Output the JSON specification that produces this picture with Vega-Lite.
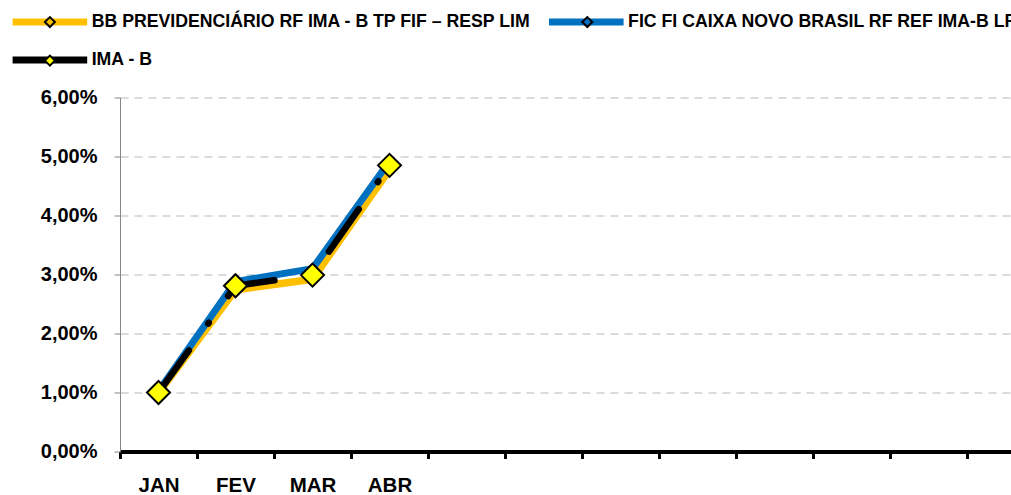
{
  "$schema": "https://vega.github.io/schema/vega-lite/v6.json",
  "width": 891,
  "height": 354,
  "autosize": {"type": "none"},
  "padding": {"left": 120, "top": 97.5, "right": 0, "bottom": 43.5},
  "background": "white",
  "config": {"font": "Liberation Sans", "view": {"stroke": null}},
  "data": {
    "values": [
      {"mes": "JAN", "serie": "BB PREVIDENCIÁRIO RF IMA - B TP FIF – RESP LIM", "valor": 0.0099},
      {"mes": "FEV", "serie": "BB PREVIDENCIÁRIO RF IMA - B TP FIF – RESP LIM", "valor": 0.0274},
      {"mes": "MAR", "serie": "BB PREVIDENCIÁRIO RF IMA - B TP FIF – RESP LIM", "valor": 0.0292},
      {"mes": "ABR", "serie": "BB PREVIDENCIÁRIO RF IMA - B TP FIF – RESP LIM", "valor": 0.0478},
      {"mes": "JAN", "serie": "FIC FI CAIXA NOVO BRASIL RF REF IMA-B LP", "valor": 0.0102},
      {"mes": "FEV", "serie": "FIC FI CAIXA NOVO BRASIL RF REF IMA-B LP", "valor": 0.0288},
      {"mes": "MAR", "serie": "FIC FI CAIXA NOVO BRASIL RF REF IMA-B LP", "valor": 0.0310},
      {"mes": "ABR", "serie": "FIC FI CAIXA NOVO BRASIL RF REF IMA-B LP", "valor": 0.0492},
      {"mes": "JAN", "serie": "IMA - B", "valor": 0.0100},
      {"mes": "FEV", "serie": "IMA - B", "valor": 0.0281},
      {"mes": "MAR", "serie": "IMA - B", "valor": 0.0299},
      {"mes": "ABR", "serie": "IMA - B", "valor": 0.0485}
    ]
  },
  "encoding": {
    "x": {
      "field": "mes",
      "type": "ordinal",
      "bandPosition": 0.5,
      "scale": {
        "type": "band",
        "domain": ["JAN", "FEV", "MAR", "ABR", "MAI", "JUN", "JUL", "AGO", "SET", "OUT", "NOV", "DEZ"],
        "range": [0, 924],
        "paddingInner": 0,
        "paddingOuter": 0
      },
      "axis": {
        "title": null,
        "tickBand": "extent",
        "grid": false,
        "domainColor": "black",
        "domainWidth": 4,
        "tickColor": "black",
        "tickWidth": 3,
        "tickSize": 7,
        "labelFontSize": 20.5,
        "labelFontWeight": "bold",
        "labelColor": "black",
        "labelPadding": 17,
        "labelAngle": 0,
        "labelOverlap": false,
        "labelExpr": "indexof(['JAN','FEV','MAR','ABR'], datum.value) >= 0 ? datum.value : ''"
      }
    },
    "y": {
      "field": "valor",
      "type": "quantitative",
      "scale": {"domain": [0, 0.06], "nice": false},
      "axis": {
        "title": null,
        "values": [0, 0.01, 0.02, 0.03, 0.04, 0.05, 0.06],
        "domainColor": "#868686",
        "domainWidth": 1,
        "tickColor": "#868686",
        "tickSize": 6,
        "tickWidth": 1,
        "gridColor": "#D0D0D0",
        "gridDash": [8, 6],
        "gridWidth": 1.5,
        "labelFontSize": 20,
        "labelFontWeight": "bold",
        "labelColor": "black",
        "labelPadding": 17,
        "labelExpr": "replace(format(datum.value, '.2%'), '.', ',')"
      }
    }
  },
  "layer": [
    {
      "transform": [{"filter": "datum.serie === 'BB PREVIDENCIÁRIO RF IMA - B TP FIF – RESP LIM'"}],
      "mark": {"type": "line", "strokeWidth": 7.5, "strokeJoin": "round"},
      "encoding": {
        "color": {
          "field": "serie",
          "type": "nominal",
          "scale": {
            "domain": ["BB PREVIDENCIÁRIO RF IMA - B TP FIF – RESP LIM", "FIC FI CAIXA NOVO BRASIL RF REF IMA-B LP", "IMA - B"],
            "range": ["#FFC000", "#0070C0", "#000000"]
          },
          "legend": {
            "title": null,
            "orient": "none",
            "direction": "horizontal",
            "legendX": -78.95,
            "legendY": -84.35,
            "columns": 2,
            "columnPadding": 3.4,
            "rowPadding": 8.9,
            "padding": 0,
            "symbolType": "M-7.46,0L7.46,0",
            "symbolSize": 100,
            "symbolStrokeWidth": 7,
            "labelFontSize": 17.7,
            "labelFontWeight": "bold",
            "labelColor": "black",
            "labelLimit": 1000,
            "labelOffset": 32.95
          }
        }
      }
    },
    {
      "transform": [{"filter": "datum.serie === 'FIC FI CAIXA NOVO BRASIL RF REF IMA-B LP'"}],
      "mark": {"type": "line", "strokeWidth": 7, "strokeJoin": "round"},
      "encoding": {"color": {"field": "serie", "type": "nominal"}}
    },
    {
      "transform": [{"filter": "datum.serie === 'IMA - B'"}],
      "mark": {"type": "line", "strokeWidth": 6.5, "strokeCap": "round", "strokeDash": [52, 33, 1, 33]},
      "encoding": {"color": {"field": "serie", "type": "nominal"}}
    },
    {
      "transform": [{"filter": "datum.serie !== 'IMA - B'"}],
      "mark": {"type": "point", "shape": "diamond", "filled": true, "opacity": 1, "size": 100, "stroke": "black", "strokeWidth": 1.5},
      "encoding": {
        "fill": {
          "field": "serie",
          "type": "nominal",
          "scale": {
            "range": ["#FFC000", "#0070C0", "#FFFF00"]
          },
          "legend": {
            "title": null,
            "orient": "none",
            "direction": "horizontal",
            "legendX": -78.95,
            "legendY": -84.35,
            "columns": 2,
            "columnPadding": 12.4,
            "rowPadding": 19.6,
            "padding": 0,
            "symbolType": "M-7.96,0M7.96,0M-1,0L0,-1L1,0L0,1Z",
            "symbolSize": 100,
            "symbolStrokeWidth": 2,
            "symbolStrokeColor": "black",
            "symbolOpacity": 1,
            "labelFontSize": 17.7,
            "labelFontWeight": "bold",
            "labelColor": "black",
            "labelOpacity": 0,
            "labelLimit": 1000,
            "labelOffset": 32.95
          }
        }
      }
    },
    {
      "transform": [{"filter": "datum.serie === 'IMA - B'"}],
      "mark": {"type": "point", "shape": "diamond", "filled": true, "opacity": 1, "size": 530, "stroke": "black", "strokeWidth": 2},
      "encoding": {"fill": {"field": "serie", "type": "nominal"}}
    }
  ]
}
